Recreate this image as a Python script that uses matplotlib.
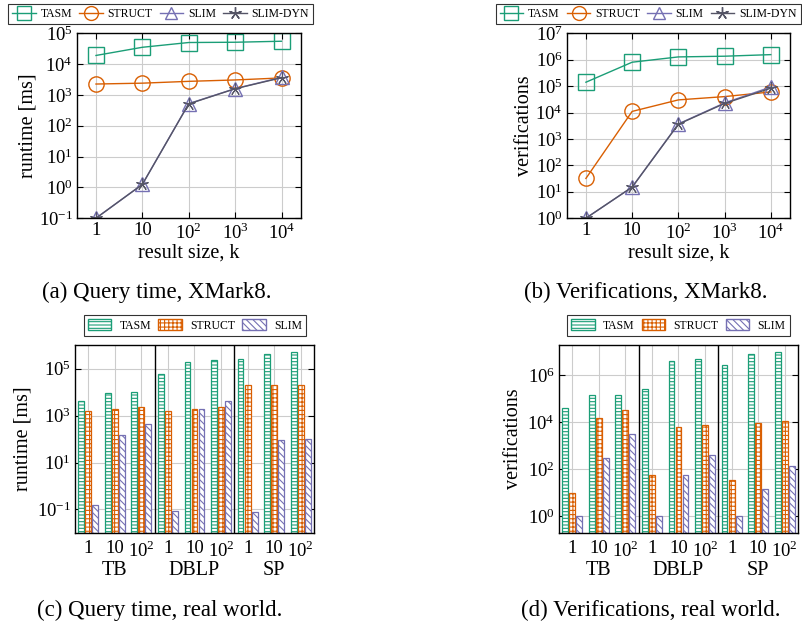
import numpy as np
import matplotlib.pyplot as plt
from matplotlib.lines import Line2D
from matplotlib.patches import Patch

plt.rcParams['font.family'] = ['Liberation Serif', 'DejaVu Serif']
plt.rcParams['mathtext.fontset'] = 'custom'
plt.rcParams['mathtext.rm'] = 'Liberation Serif'
plt.rcParams['hatch.linewidth'] = 0.8

# colours
C_TASM = '#1b9e77'
C_STRUCT = '#d95f02'
C_SLIM = '#7570b3'
C_DYN = '#555566'

# line charts, XMark8
k_values = [1, 10, 100, 1000, 10000]
k_labels = ['1', '10', '$10^2$', '$10^3$', '$10^4$']

rt_tasm = [1.9e4, 3.5e4, 5.0e4, 5.1e4, 5.5e4]
rt_struct = [2250, 2400, 2750, 3050, 3550]
rt_slim = [0.1, 1.25, 520, 1600, 3700]
rt_dyn = [0.1, 1.25, 510, 1580, 3600]

ver_tasm = [1.4e5, 8.0e5, 1.27e6, 1.35e6, 1.55e6]
ver_struct = [32, 1.1e4, 3.0e4, 4.0e4, 6.0e4]
ver_slim = [1, 15, 3700, 2.3e4, 9.2e4]
ver_dyn = [1, 15, 3600, 2.2e4, 8.3e4]

# bar charts, real world
datasets = ['TB', 'DBLP', 'SP']
bar_k_labels = ['1', '10', '$10^2$']

rw_rt_tasm = [4400, 9500, 1.05e4, 6.2e4, 2.0e5, 2.3e5, 2.6e5, 4.2e5, 5.1e5]
rw_rt_struct = [1600, 1950, 2450, 1600, 1950, 2250, 2.1e4, 2.1e4, 2.1e4]
rw_rt_slim = [0.15, 150, 450, 0.09, 2000, 4400, 0.075, 95, 100]

rw_ver_tasm = [4.2e4, 1.4e5, 1.5e5, 2.5e5, 4.3e6, 5.2e6, 2.8e6, 7.8e6, 1.0e7]
rw_ver_struct = [10, 1.5e4, 3.2e4, 55, 6500, 8000, 36, 9000, 1.1e4]
rw_ver_slim = [1, 300, 3300, 1, 58, 420, 1, 14, 130]

fig = plt.figure(figsize=(8.02, 6.27), dpi=100)


def style_axes(ax):
    ax.tick_params(which='both', direction='in', top=True, right=True, labelsize=13.5)
    ax.tick_params(which='major', length=4, pad=3)
    ax.tick_params(which='minor', length=2)
    ax.grid(True, which='major', color='#cccccc', linewidth=0.8)
    ax.set_axisbelow(True)
    for s in ax.spines.values():
        s.set_linewidth(1.0)


def line_plot(ax, tasm, struct, slim, dyn, ylim, ylabel):
    ax.plot(k_values, tasm, color=C_TASM, marker='s', markersize=11, mfc='none', mew=1.0, lw=1.0)
    ax.plot(k_values, struct, color=C_STRUCT, marker='o', markersize=11, mfc='none', mew=1.0, lw=1.0)
    ax.plot(k_values, slim, color=C_SLIM, marker='^', markersize=10, mfc='none', mew=1.0, lw=1.0)
    ax.plot(k_values, dyn, color=C_DYN, marker=(5, 2, 0), markersize=9, mew=0.8, lw=1.0)
    ax.set_xscale('log')
    ax.set_yscale('log')
    ax.set_xlim(0.39, 2.6e4)
    ax.set_ylim(*ylim)
    ax.set_xticks(k_values)
    ax.set_xticklabels(k_labels)
    ax.set_xlabel('result size, k', fontsize=14.5, labelpad=0)
    ax.set_ylabel(ylabel, fontsize=14.5, labelpad=1)
    style_axes(ax)


ax_a = fig.add_axes([0.096, 0.652, 0.279, 0.295])
line_plot(ax_a, rt_tasm, rt_struct, rt_slim, rt_dyn, (0.1, 1e5), 'runtime [ms]')
ax_a.set_yticks([1e-1, 1, 10, 100, 1e3, 1e4, 1e5])

ax_b = fig.add_axes([0.707, 0.652, 0.278, 0.295])
line_plot(ax_b, ver_tasm, ver_struct, ver_slim, ver_dyn, (1, 1e7), 'verifications')
ax_b.set_yticks([1, 10, 100, 1e3, 1e4, 1e5, 1e6, 1e7])


def bar_plot(ax, tasm, struct, slim, ylim, yticks, ylabel):
    x = np.arange(len(tasm))
    w = 0.22
    off = 0.265
    base = ylim[0]
    ax.bar(x - off, np.array(tasm) - base, w, bottom=base, facecolor='white',
           edgecolor=C_TASM, hatch='-----', linewidth=0.9)
    ax.bar(x, np.array(struct) - base, w, bottom=base, facecolor='white',
           edgecolor=C_STRUCT, hatch='++++', linewidth=0.9)
    ax.bar(x + off, np.array(slim) - base, w, bottom=base, facecolor='white',
           edgecolor=C_SLIM, hatch='\\\\\\\\\\', linewidth=0.9)
    ax.set_yscale('log')
    ax.set_ylim(*ylim)
    ax.set_xlim(-0.5, len(tasm) - 0.5)
    ax.set_yticks(yticks)
    ax.yaxis.set_minor_locator(plt.NullLocator())
    ax.set_xticks(x)
    ax.set_xticklabels(bar_k_labels * len(datasets))
    ax.set_ylabel(ylabel, fontsize=14.5, labelpad=3)
    style_axes(ax)
    ax.tick_params(axis='x', length=0, pad=5)
    for sep in (2.5, 5.5):
        ax.axvline(sep, color='black', lw=1.0)
    for i, name in enumerate(datasets):
        ax.text(3 * i + 1, -0.2, name, transform=ax.get_xaxis_transform(),
                ha='center', va='center', fontsize=14.5)


ax_c = fig.add_axes([0.0935, 0.150, 0.298, 0.300])
bar_plot(ax_c, rw_rt_tasm, rw_rt_struct, rw_rt_slim, (1e-2, 1.05e6),
         [1e-1, 1e1, 1e3, 1e5], 'runtime [ms]')

ax_d = fig.add_axes([0.697, 0.150, 0.298, 0.300])
bar_plot(ax_d, rw_ver_tasm, rw_ver_struct, rw_ver_slim, (0.19, 2e7),
         [1, 1e2, 1e4, 1e6], 'verifications')

# legends
line_handles = [
    Line2D([], [], color=C_TASM, marker='s', markersize=10, mfc='none', lw=1.0),
    Line2D([], [], color=C_STRUCT, marker='o', markersize=10, mfc='none', lw=1.0),
    Line2D([], [], color=C_SLIM, marker='^', markersize=9, mfc='none', lw=1.0),
    Line2D([], [], color=C_DYN, marker=(5, 2, 0), markersize=9, lw=1.0),
]
line_labels = ['TASM', 'STRUCT', 'SLIM', 'SLIM-DYN']
bar_handles = [
    Patch(facecolor='white', edgecolor=C_TASM, hatch='-----'),
    Patch(facecolor='white', edgecolor=C_STRUCT, hatch='++++'),
    Patch(facecolor='white', edgecolor=C_SLIM, hatch='\\\\\\\\\\'),
]
bar_labels = ['TASM', 'STRUCT', 'SLIM']

leg_kw = dict(loc='center', frameon=True, fancybox=False, edgecolor='black',
              prop={'size': 8.5}, borderpad=0.35, borderaxespad=0)
for cx in (0.200, 0.808):
    lg = fig.legend(line_handles, line_labels, ncol=4, bbox_to_anchor=(cx, 0.978),
                    handlelength=2.0, handletextpad=0.4, columnspacing=0.6, **leg_kw)
    lg.get_frame().set_linewidth(0.8)
for cx in (0.243, 0.846):
    lg = fig.legend(bar_handles, bar_labels, ncol=3, bbox_to_anchor=(cx, 0.481),
                    handlelength=2.0, handleheight=1.0, handletextpad=0.7,
                    columnspacing=0.6, **leg_kw)
    lg.get_frame().set_linewidth(0.8)

# captions
fig.text(0.195, 1 - 292 / 627, '(a) Query time, XMark8.', ha='center', va='center', fontsize=16.5)
fig.text(0.805, 1 - 292 / 627, '(b) Verifications, XMark8.', ha='center', va='center', fontsize=16.5)
fig.text(0.199, 1 - 610 / 627, '(c) Query time, real world.', ha='center', va='center', fontsize=16.5)
fig.text(0.812, 1 - 610 / 627, '(d) Verifications, real world.', ha='center', va='center', fontsize=16.5)

fig.savefig('out.png', dpi=100)
